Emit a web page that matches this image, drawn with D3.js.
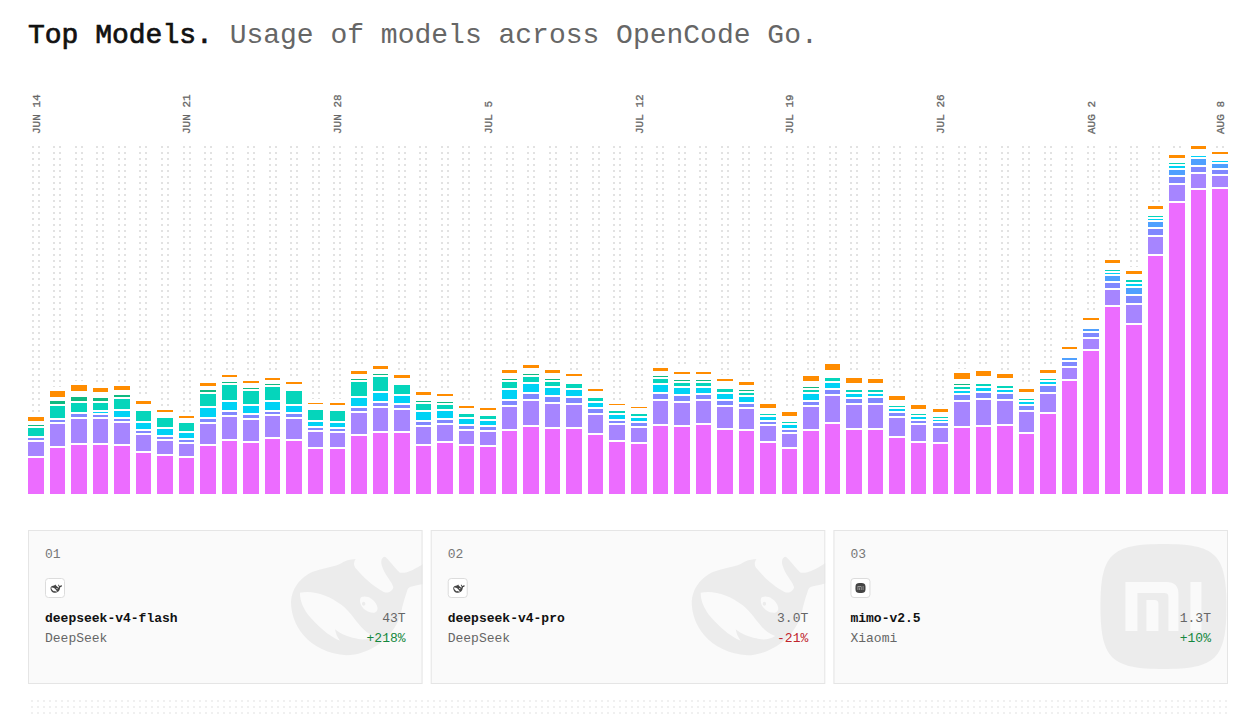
<!DOCTYPE html>
<html>
<head>
<meta charset="utf-8">
<title>Top Models</title>
<script src="https://cdn.jsdelivr.net/npm/d3@7"></script>
<style>
  html, body { margin: 0; padding: 0; background: #fff; overflow: hidden; }
  svg { display: block; }
  text { font-family: "Liberation Mono", monospace; }
</style>
</head>
<body>
<svg id="chart"></svg>
<script>
// Datos.
const days = [
  'JUN 14','JUN 15','JUN 16','JUN 17','JUN 18','JUN 19','JUN 20',
  'JUN 21','JUN 22','JUN 23','JUN 24','JUN 25','JUN 26','JUN 27',
  'JUN 28','JUN 29','JUN 30','JUL 1','JUL 2','JUL 3','JUL 4',
  'JUL 5','JUL 6','JUL 7','JUL 8','JUL 9','JUL 10','JUL 11',
  'JUL 12','JUL 13','JUL 14','JUL 15','JUL 16','JUL 17','JUL 18',
  'JUL 19','JUL 20','JUL 21','JUL 22','JUL 23','JUL 24','JUL 25',
  'JUL 26','JUL 27','JUL 28','JUL 29','JUL 30','JUL 31','AUG 1',
  'AUG 2','AUG 3','AUG 4','AUG 5','AUG 6','AUG 7','AUG 8'
];
const tick_labels = ['JUN 14','JUN 21','JUN 28','JUL 5','JUL 12','JUL 19','JUL 26','AUG 2','AUG 8'];

const flash = [38,48,51,51,50,43,40,38,50,55,53,57,55,47,47,60,63,63,50,53,50,49,65,69,67,67,61,54,52,70,69,71,66,65,53,47,65,72,66,66,58,53,52,68,69,70,62,82,115,145,189,171,240,293,306,307];
const pro = [16,24,26,26,23,18,15,14,22,24,23,23,22,17,16,23,25,23,19,18,15,15,24,26,25,24,20,17,16,25,24,24,23,22,17,15,24,28,25,25,20,18,16,26,27,25,22,20,13,12,17,20,19,18,16,13];
const mimo = [4,4,5,4,4,4,4,4,5,5,5,4,5,4,4,5,5,5,5,5,5,5,6,7,7,7,6,4,5,7,7,6,6,5,4,4,5,6,6,7,5,4,5,7,7,7,6,8,6,6,7,9,8,8,7,6];
const blue = [0,0,0,0,0,0,0,0,0,0,0,0,0,0,0,0,0,0,0,0,0,0,0,0,0,0,0,0,0,0,0,0,0,0,0,0,0,0,0,0,0,0,0,0,0,0,0,0,4,4,7,8,7,7,8,6];
const cyan = [0,0,0,3,8,8,8,7,11,10,9,10,8,6,6,10,10,9,10,9,7,6,11,10,9,8,6,6,5,9,8,7,7,7,5,5,8,7,5,4,4,4,3,4,5,4,4,4,0,0,3,4,3,4,3,3];
const teal = [10,14,11,9,12,12,11,10,14,17,15,15,15,12,12,16,16,11,8,6,5,5,8,7,6,6,5,4,4,6,5,5,5,4,3,3,4,5,4,4,3,3,3,4,4,4,3,3,0,0,3,4,3,3,0,0];
const green = [3,5,6,5,4,0,0,0,4,3,3,3,0,0,0,3,3,0,3,3,0,0,3,3,3,0,0,0,0,3,3,3,0,3,0,0,3,0,0,0,0,0,0,3,0,0,0,0,0,0,0,0,0,0,0,0];
const other = [2,2,4,4,3,5,4,3,2,3,3,2,5,4,4,3,3,5,4,4,4,4,4,4,4,6,5,4,4,3,4,4,6,3,4,4,4,6,5,5,4,3,3,3,6,6,5,4,7,7,5,4,5,3,5,5];
const orange = [6,8,8,6,6,5,4,4,5,4,4,4,4,3,4,5,5,5,5,4,4,4,5,5,5,4,4,3,3,5,4,4,4,5,6,6,7,8,7,6,6,6,5,8,7,6,5,5,4,4,5,5,5,5,5,4];

const series_keys = ['flash','pro','mimo','blue','cyan','teal','green','other','orange'];
const series_values = { flash, pro, mimo, blue, cyan, teal, green, other, orange };
const series_colors = {
  flash: '#ec6cff', pro: '#a685ff', mimo: '#8088ff', blue: '#4fa0ff',
  cyan: '#00d2f5', teal: '#05d5bb', green: '#10b981', other: 'none', orange: '#ff8c00'
};

// Tarjetas.
const ranks = ['01','02','03'];
const models = ['deepseek-v4-flash','deepseek-v4-pro','mimo-v2.5'];
const providers = ['DeepSeek','DeepSeek','Xiaomi'];
const totals = ['43T','3.0T','1.3T'];
const changes = ['+218%','-21%','+10%'];

// Configuracion.
const WIDTH = 1252;
const HEIGHT = 721;
const SEGMENT_GAP = 2;

const svg = d3.select('svg#chart').attr('width', WIDTH).attr('height', HEIGHT);

// Titulo.
const title = svg.append('text')
  .attr('x', 28)
  .attr('y', 43)
  .attr('font-size', 28)
  .attr('xml:space', 'preserve');
title.append('tspan')
  .attr('fill', '#111')
  .attr('stroke', '#111')
  .attr('stroke-width', 0.7)
  .text('Top Models.');
title.append('tspan').attr('fill', '#666').text(' Usage of models across OpenCode Go.');

// Escalas.
const table = days.map((day, i) => {
  const row = { day };
  series_keys.forEach(k => { row[k] = series_values[k][i]; });
  return row;
});
const stacked = d3.stack().keys(series_keys)(table);
const totals_by_day = new Map(table.map(d => [d.day, d3.sum(series_keys, k => d[k])]));

const x = d3.scaleBand().domain(days).range([28, 1228]).paddingInner(0.28).paddingOuter(0);
const y = d3.scaleLinear().domain([0, 348]).range([494, 146]);

// Puntos de fondo, cortados justo encima de cada barra.
const dots = svg.append('g').attr('shape-rendering', 'crispEdges').attr('fill', '#e2e2e2');
days.forEach(day => {
  const limit = y(totals_by_day.get(day)) + SEGMENT_GAP - 4;
  const center = x(day) + x.bandwidth() / 2;
  [center - 4, center + 2].forEach(cx => {
    dots.selectAll(null)
      .data(d3.range(y.range()[1], limit, 6))
      .join('rect')
        .attr('x', Math.round(cx))
        .attr('y', d => d)
        .attr('width', 2)
        .attr('height', d => Math.min(2, limit - d));
  });
});

// Barras.
svg.append('g')
  .attr('shape-rendering', 'crispEdges')
  .selectAll('g')
  .data(stacked.filter(s => s.key !== 'other'))
  .join('g')
    .attr('fill', s => series_colors[s.key])
  .selectAll('rect')
  .data(s => s.filter(d => d[1] > d[0]))
  .join('rect')
    .attr('x', d => x(d.data.day))
    .attr('y', d => y(d[1]) + SEGMENT_GAP)
    .attr('width', x.bandwidth())
    .attr('height', d => y(d[0]) - y(d[1]) - SEGMENT_GAP);

// Eje de fechas.
const axis = svg.append('g')
  .attr('transform', 'translate(0, 134)')
  .call(d3.axisTop(x).tickValues(tick_labels).tickSize(0).tickPadding(0));
axis.select('.domain').remove();
axis.selectAll('text')
  .attr('transform', 'rotate(-90)')
  .attr('x', 0)
  .attr('y', 0)
  .attr('dy', '0.35em')
  .attr('text-anchor', 'start')
  .attr('font-family', '"Liberation Mono", monospace')
  .attr('font-size', 11)
  .attr('fill', '#666')
  .attr('stroke', '#666')
  .attr('stroke-width', 0.3);

// Logos (dibujados a mano).
const WHALE_BODY = 'M165,42 C180,32 195,28 212,27 C205,38 205,48 215,58 C235,82 265,110 295,125 C308,132 322,125 325,112 C322,95 298,75 290,45 C286,30 292,20 300,20 C312,28 325,50 345,68 C365,72 395,55 420,38 L420,100 C400,108 375,105 368,118 C362,135 358,150 352,170 C345,215 320,255 285,280 C250,305 215,316 185,316 C130,312 85,290 55,255 C30,225 18,190 18,155 C20,120 40,90 70,72 C100,55 135,55 165,42 Z';
const WHALE_BELLY = 'M45,128 C85,120 130,135 170,165 C195,185 210,210 228,230 C238,242 252,252 268,258 C255,268 235,270 220,267 C198,263 170,255 150,238 C152,250 157,262 165,272 C130,258 95,225 70,195 C55,175 44,150 45,128 Z';
const WHALE_EYE = 'M228,142 C245,135 262,145 272,160 C280,172 280,185 268,188 C250,190 235,178 228,165 C224,156 224,148 228,142 Z';
const WHALE_PUPIL = 'M236,155 a5,6 0 1,0 0.1,0 Z';
const MI_BODY = 'M1100,606 C1100,554 1111,544 1163,544 C1215,544 1226,554 1226,606 C1226,659 1215,669 1163,669 C1111,669 1100,659 1100,606 Z';
const MI_M = 'M1125,582 H1166 Q1178,582 1178,594 V631 H1168 V597 Q1168,593 1164,593 H1137 V631 H1125 Z M1146,600 H1154 Q1158,600 1158,604 V631 H1146 Z M1190,582 H1201 V631 H1190 Z';

const draw_whale = (g, tx, ty, k, fill, cut) => {
  const w = g.append('g').attr('transform', `translate(${tx},${ty}) scale(${k})`);
  w.append('path').attr('d', WHALE_BODY).attr('fill', fill);
  w.append('path').attr('d', WHALE_BELLY).attr('fill', cut);
  w.append('path').attr('d', WHALE_EYE).attr('fill', cut);
  w.append('path').attr('d', WHALE_PUPIL).attr('fill', fill);
};

const draw_mi = (g, tx, ty, k, fill, cut) => {
  const m = g.append('g').attr('transform', `translate(${tx},${ty}) scale(${k}) translate(-1100,-544)`);
  m.append('path').attr('d', MI_BODY).attr('fill', fill);
  m.append('path').attr('d', MI_M).attr('fill', cut);
};

// Tarjetas.
const card_x = d3.scaleBand().domain(ranks).range([28, 1228]).paddingInner(8 / 394.67).paddingOuter(0);
const CARD_TOP = 530;
const CARD_H = 154;

ranks.forEach((rank, i) => {
  const w = card_x.bandwidth();
  const card = svg.append('g').attr('transform', `translate(${card_x(rank)}, ${CARD_TOP})`);

  card.append('clipPath').attr('id', `clip-${rank}`)
    .append('rect').attr('width', w).attr('height', CARD_H);

  card.append('rect')
    .attr('width', w)
    .attr('height', CARD_H)
    .attr('fill', '#fafafa');

  const logo = card.append('g').attr('clip-path', `url(#clip-${rank})`);
  if (i < 2) draw_whale(logo, i === 0 ? 257 : 255, 20, 1 / 3, '#ececec', '#fafafa');
  else draw_mi(logo, 267, 14, 1, '#ececec', '#fafafa');

  card.append('rect')
    .attr('x', 0.5)
    .attr('y', 0.5)
    .attr('width', w - 1)
    .attr('height', CARD_H - 1)
    .attr('fill', 'none')
    .attr('stroke', '#e5e5e5');

  card.append('text').attr('x', 17).attr('y', 28)
    .attr('font-size', 13).attr('fill', '#777').text(rank);

  card.append('rect')
    .attr('x', 17.5).attr('y', 48.5)
    .attr('width', 19).attr('height', 19)
    .attr('rx', 3)
    .attr('fill', '#fff')
    .attr('stroke', '#dcdcdc');

  if (i < 2) draw_whale(card, 22, 54, 0.028, '#444', '#fff');
  else draw_mi(card, 22, 53, 0.08, '#444', '#999');

  card.append('text').attr('x', 17).attr('y', 92)
    .attr('font-size', 13).attr('font-weight', 700).attr('fill', '#111').text(models[i]);

  card.append('text').attr('x', 17).attr('y', 112)
    .attr('font-size', 13).attr('fill', '#666').text(providers[i]);

  card.append('text').attr('x', w - 17).attr('y', 92)
    .attr('font-size', 13).attr('text-anchor', 'end').attr('fill', '#666').text(totals[i]);

  card.append('text').attr('x', w - 17).attr('y', 112)
    .attr('font-size', 13).attr('text-anchor', 'end')
    .attr('fill', changes[i][0] === '+' ? '#15883e' : '#c0262d')
    .text(changes[i]);
});

// Banda de puntos inferior.
svg.append('g')
  .attr('shape-rendering', 'crispEdges')
  .attr('fill', '#f0f0f0')
  .selectAll('rect')
  .data(d3.cross(d3.range(31, 1228, 6), [700, 706, 712]))
  .join('rect')
    .attr('x', d => d[0])
    .attr('y', d => d[1])
    .attr('width', 2)
    .attr('height', 2);
</script>
</body>
</html>
